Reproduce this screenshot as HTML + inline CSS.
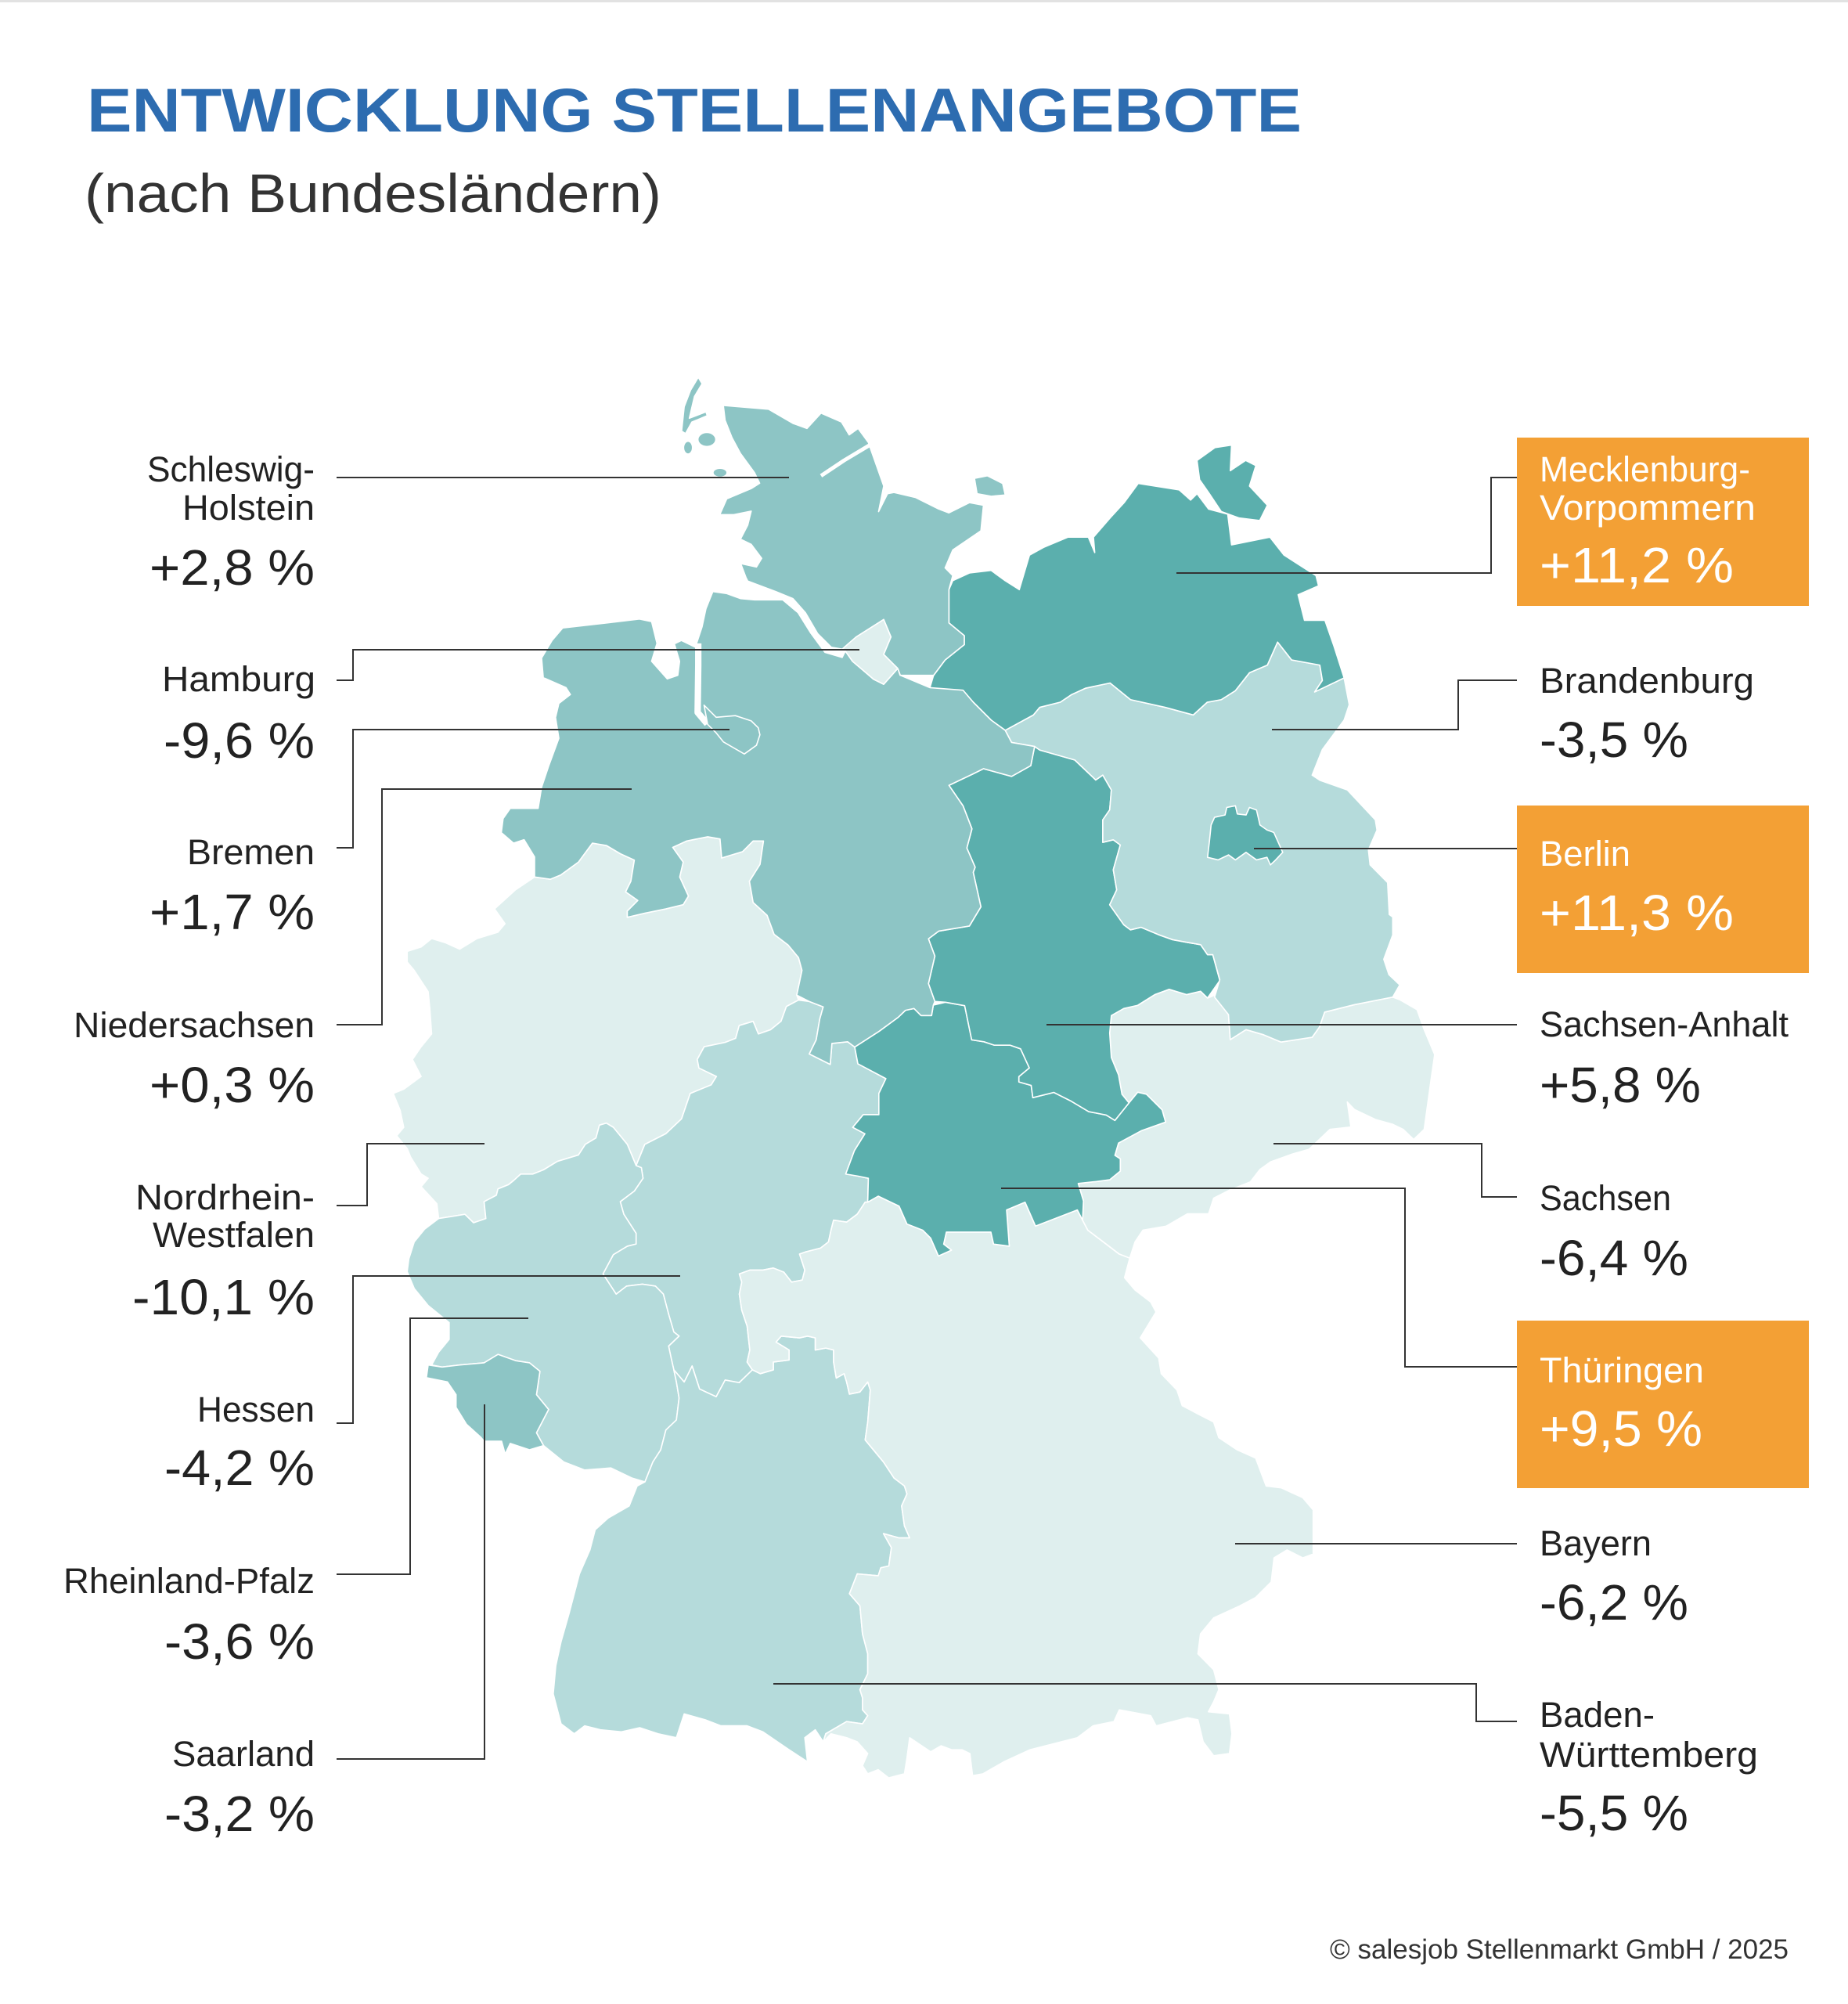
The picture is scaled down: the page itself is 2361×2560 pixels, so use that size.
<!DOCTYPE html>
<html><head><meta charset="utf-8"><style>
html,body{margin:0;padding:0;background:#fff;}
svg{display:block;}
text{font-family:"Liberation Sans",sans-serif;}
</style></head><body>
<svg width="2361" height="2560" viewBox="0 0 2361 2560" xmlns="http://www.w3.org/2000/svg">
<rect x="0" y="0" width="2361" height="2560" fill="#fff"/>
<rect x="0" y="0" width="2361" height="3" fill="#e2e2e2"/>
<text x="111" y="168" font-size="79" font-weight="bold" fill="#2d6cb0" textLength="1552" lengthAdjust="spacingAndGlyphs">ENTWICKLUNG STELLENANGEBOTE</text>
<text x="108" y="271" font-size="70" fill="#333" textLength="737" lengthAdjust="spacingAndGlyphs">(nach Bundesländern)</text>

<g transform="scale(1.6339)" stroke="#fff" stroke-width="1" stroke-linejoin="round">
<!-- NRW -->
<polygon fill="#dfefee" points="418,685.7 430.4,687.4 438.6,684 452.3,674 463.2,659.2 474.1,661 485.1,667.5 496,672.5 493.3,689 489.2,697.3 498.7,704 490.5,712.3 490.5,717.2 504.2,714 520.6,710.6 534.2,707.3 538.3,700.6 531.5,685.7 534.2,674 526,662.5 537,657.5 553.4,654.2 563,655.9 564.3,670.8 580.7,665.8 588.9,657.5 597,657.5 594.3,675.8 586,689 588.9,705.6 599.8,715.6 605.3,730.5 616.2,738.8 624.4,748.7 627.1,758.7 623,778 624.4,781.9 614.9,786.9 610.7,798.5 602.5,805.1 593,808.4 588.9,798.5 578,801.8 575.2,811.8 567,815 550.6,818.4 545.2,828.3 546.5,835 560.2,841.6 556.1,848.2 539.7,854.9 532.9,874.8 520.6,886.4 504.2,894.7 497.4,911.3 490.5,894.7 485,888 479.6,881.4 474.1,878.1 468.7,879.7 466,889.7 457.7,894.7 452.3,903 435.9,908 425,914.6 416.7,917.9 407.2,917.9 401.7,922.9 397.6,926.2 389.4,929.5 388.1,934.5 378.5,939.5 379.9,952.7 370.3,956 363.5,949.4 353.9,951 343,952.7 341.6,941.1 329.3,927.8 334.8,921.2 329.3,917.9 321.1,904.6 318.4,898 310.2,888 315.7,881.4 312.9,868.1 307.5,854.9 315.7,851.6 329.3,841.6 322.5,828.3 329.3,818.4 337.5,808.4 336.1,788.5 334.8,775.3 323.9,758.7 318.4,752.1 318.4,743.8 329.3,740.4 337.5,733.8 348.4,737.1 359.4,742.1 373,733.8 389.4,728.8 394.9,722.2 386.7,710.6 403.1,695.7"/>
<!-- Hessen -->
<polygon fill="#b5dbdb" points="497.4,911.3 504.2,894.7 520.6,886.4 532.9,874.8 539.7,854.9 556.1,848.2 560.2,841.6 546.5,835 545.2,828.3 550.6,818.4 567,815 575.2,811.8 578,801.8 588.9,798.5 593,808.4 602.5,805.1 610.7,798.5 614.9,786.9 624.4,781.9 632.8,783 643.7,787.2 641,796.7 638.2,813 632.8,824 649.2,832.2 650.5,815.8 662.8,814.5 668.3,818.6 670.8,831.7 692.7,843.3 687.2,854.9 687.2,871.5 675,871.5 666.8,881.4 676.3,886.4 668.1,899.6 661.3,917.9 670.8,919.5 679,921.2 678.5,939.9 676.5,939.9 670.3,949.3 662,955.5 651.8,954 649.8,961.8 647.8,971 641.6,975.8 629.3,979 625.2,980.5 629.3,993 627.3,1000.8 619,1002.4 612.9,994.6 604.7,991.4 596.5,993 586.3,993 578.1,996 580,1002.4 578.1,1011.8 580,1024.3 584.2,1036.8 586.3,1055.5 584.2,1064.9 588.3,1071 578,1081 567,1079 560,1092 547,1086 541.2,1068 535,1080.5 526.9,1071 524.8,1061.8 522.8,1052.4 531,1044.6 526.9,1041.4 522.8,1027.4 518.7,1011.8 512.5,1005.5 502.3,1004 490,1005.5 481.8,1011.8 477.7,1005.5 471.5,996 479.6,980.9 490.5,974.3 497.4,972.6 497.4,964.3 487.8,949.4 485,939.5 496,931.2 502.8,921.2 501.5,912.9"/>
<!-- RP -->
<polygon fill="#b5dbdb" points="343,952.7 353.9,951 363.5,949.4 370.3,956 379.9,952.7 378.5,939.5 388.1,934.5 389.4,929.5 397.6,926.2 401.7,922.9 407.2,917.9 416.7,917.9 425,914.6 435.9,908 452.3,903 457.7,894.7 466,889.7 468.7,879.7 474.1,878.1 479.6,881.4 485,888 490.5,894.7 497.4,911.3 501.5,912.9 502.8,921.2 496,931.2 485,939.5 487.8,949.4 497.4,964.3 497.4,972.6 490.5,974.3 479.6,980.9 471.5,996 477.7,1005.5 481.8,1011.8 490,1005.5 502.3,1004 512.5,1005.5 518.7,1011.8 522.8,1027.4 526.9,1041.4 531,1044.6 522.8,1052.4 524.8,1061.8 526.9,1071 528.9,1080.5 531,1093 528.9,1110.2 520.7,1118 516.6,1133.6 510.5,1143 504.3,1158.6 494,1155.5 477.7,1147.7 457.2,1149.3 440.8,1143 425,1130.2 419.5,1120.2 429,1102 419.5,1090.4 422.2,1072.1 414,1065.5 403.1,1063.8 389.4,1058.9 378.5,1065.5 359.4,1067.2 345.7,1068.8 337.5,1067.2 343,1057.2 351.2,1047.2 351.2,1034 334.8,1020.7 323.9,1007.4 318.4,994.2 319.7,984.2 323.9,971 332,961"/>
<!-- Saarland -->
<polygon fill="#8dc5c5" points="334.8,1067.2 345.7,1068.8 359.4,1067.2 378.5,1065.5 389.4,1058.9 403.1,1063.8 414,1065.5 422.2,1072.1 419.5,1090.4 429,1102 419.5,1120.2 425,1130.2 414,1133.5 399,1128.5 395,1136.8 392.2,1126.8 378.5,1126.8 375.8,1123.5 364.8,1113.6 356.6,1100.3 356.6,1090.4 349.8,1080.4 333.4,1077.1"/>
<!-- BW -->
<polygon fill="#b5dbdb" points="504.3,1158.6 510.5,1143 516.6,1133.6 520.7,1118 528.9,1110.2 531,1093 528.9,1080.5 526.9,1071 535,1080.5 541.2,1068 547,1086 560,1092 567,1079 578,1081 588.3,1071 594.5,1074 604.7,1071 604.7,1064.9 617,1063.3 617,1055.5 606.8,1049.3 610.9,1044.6 625.2,1046 631.4,1044.6 637.5,1046 637.5,1055.5 645.7,1054 651.8,1055.5 651.8,1064.9 653.9,1077.4 660,1074 662,1080.5 664.2,1090 672.4,1088.3 678.5,1080.5 680.5,1086.8 678.5,1111.8 676.5,1125.8 690.8,1143 699,1155.5 707.2,1161.8 709.2,1168 705,1177.4 707.2,1193 711.3,1202.4 703,1202.4 690.8,1199 697,1210 695,1224.3 688.7,1225.8 686.7,1232 670.3,1230.5 664.2,1246 672.4,1255.5 674.4,1277.4 678.5,1293 678.5,1308.6 672.4,1321 674.4,1327.4 674.4,1336.8 678.5,1341.4 674.4,1347.7 662,1346 645.7,1355.5 643.7,1361.8 637.5,1352.4 629.3,1358.6 631.4,1377.4 617,1368 596.5,1354 584.2,1349.3 563.7,1349.3 551.4,1344.6 535,1340 528.9,1358.6 514.6,1355.5 500.2,1350.8 485.9,1354 469.5,1352.4 457.2,1349.3 449,1355.5 438.7,1347.7 432.6,1324.3 434.6,1302.4 438.7,1283.6 444.9,1261.8 453.1,1230.5 461.3,1211.8 465.4,1196 475.6,1186.8 492,1177.4 498.2,1161.8"/>
<!-- Bayern -->
<polygon fill="#dfefee" points="678.5,939.9 686.7,935.2 703,943 709.2,957 721.5,961.8 727.7,968 733.8,982 744,977.4 737.9,972.7 740,963.3 774.8,963.3 776.9,972.7 789.2,974.3 787.1,946 801.5,939.9 809.7,958.6 842.4,946 846.5,954 850.6,961.8 865,972.7 875.2,980.5 883.4,983.6 879.3,999 887.5,1008.6 899.8,1018 903.9,1025.8 891.6,1046 906,1061.8 908,1074 920.3,1086.8 924.4,1099 936.7,1105.5 949,1111.8 953,1124 967.4,1133.6 981.8,1140 990,1161.8 1002,1163.3 1018.7,1171 1026.8,1180.5 1026.8,1215 1018.7,1218 1006.4,1211.8 996.2,1218 994,1236.8 981.8,1249 969.5,1255.5 949,1264.9 938.7,1277.4 936.7,1293 949,1305.5 953,1321 949,1330.5 944.9,1338.3 961.3,1340 963.3,1355.5 961.3,1371 949,1372.7 940.8,1361.8 936.7,1344.6 928.5,1343 904,1349.3 899.8,1341.4 875.2,1336.8 871,1346 854.7,1349.3 842.4,1358.6 805.5,1368 785,1377.4 768.7,1386.8 760.5,1388.3 758.4,1371 752.3,1368 744,1368 735.9,1364.9 727.7,1369.6 711.3,1358.6 709.2,1374.3 707.2,1386.8 694.9,1390 686.7,1383.6 678.5,1386.8 674.4,1380.5 678.5,1371 670.3,1361.8 662,1358.6 649.8,1355.5 643.7,1361.8 645.7,1355.5 662,1346 674.4,1347.7 678.5,1341.4 674.4,1336.8 674.4,1327.4 672.4,1321 678.5,1308.6 678.5,1293 674.4,1277.4 672.4,1255.5 664.2,1246 670.3,1230.5 686.7,1232 688.7,1225.8 695,1224.3 697,1210 690.8,1199 703,1202.4 711.3,1202.4 707.2,1193 705,1177.4 709.2,1168 707.2,1161.8 699,1155.5 690.8,1143 676.5,1125.8 678.5,1111.8 680.5,1086.8 678.5,1080.5 672.4,1088.3 664.2,1090 662,1080.5 660,1074 653.9,1077.4 651.8,1064.9 651.8,1055.5 645.7,1054 637.5,1055.5 637.5,1046 631.4,1044.6 625.2,1046 610.9,1044.6 606.8,1049.3 617,1055.5 617,1063.3 604.7,1064.9 604.7,1071 594.5,1074 588.3,1071 584.2,1064.9 586.3,1055.5 584.2,1036.8 580,1024.3 578.1,1011.8 580,1002.4 578.1,996 586.3,993 596.5,993 604.7,991.4 612.9,994.6 619,1002.4 627.3,1000.8 629.3,993 625.2,980.5 629.3,979 641.6,975.8 647.8,971 649.8,961.8 651.8,954 662,955.5 670.3,949.3 676.5,939.9"/>
<!-- Sachsen -->
<polygon fill="#dfefee" points="950,778 960.6,793.3 962,812.8 974.3,805 988,809 1001.6,814.7 1026,811 1031.7,803 1035.8,791.3 1059,785.5 1089,779.6 1094.5,781.6 1108,789.4 1113.6,805 1121.8,824.5 1119,844 1113.6,883 1105.4,890.9 1097.2,883 1089,879 1075.4,875.2 1059,867.4 1053.5,861.6 1056.3,881.1 1039.9,883 1023.5,898.6 1009.8,902.5 993.4,908.4 985.2,914.3 977.7,924 961.3,930.5 949,936.8 945,949 928.5,949 912,958.6 893.7,961.8 887.5,971 883.4,983.6 875.2,980.5 865,972.7 850.6,961.8 846.5,954 847.2,939 843.1,925.3 856.8,923.8 867.7,922.4 876,915.6 876,906 871.8,903.3 874.6,893.7 892.3,884.1 911.4,877.3 908.7,867.7 896.4,855.5 889.6,854 882.8,862.3 877.3,855.5 874.6,840.4 869,826.8 867.7,807.6 869,794 878.7,788.5 889.6,786 903,777.6 914.2,773.5 927.8,777.6 938.8,775 944.2,780.3"/>
<!-- Thueringen -->
<polygon fill="#5bafad" points="668.3,818.6 687.4,806.3 702.4,795.3 708,789.9 714.7,788.5 720.2,794 728.4,794 729.8,785.8 739.3,783.6 754.3,786.3 759.8,813 769.4,814.5 777.6,817.2 790,817.2 798,820 804.9,835 796.7,841.8 796.7,845.9 806.3,848.6 807.6,858.2 824,854.1 837.7,861 851.3,869.1 865,871.8 871.8,876 882.8,862.3 889.6,854 896.4,855.5 908.7,867.7 911.4,877.3 892.3,884.1 874.6,893.7 871.8,903.3 876,906 876,915.6 867.7,922.4 856.8,923.8 843.1,925.3 847.2,939 846.5,954 842.4,946 809.7,958.6 801.5,939.9 787.1,946 789.2,974.3 776.9,972.7 774.8,963.3 740,963.3 737.9,972.7 744,977.4 733.8,982 727.7,968 721.5,961.8 709.2,957 703,943 686.7,935.2 678.5,939.9 679,921.2 670.8,919.5 661.3,917.9 668.1,899.6 676.3,886.4 666.8,881.4 675,871.5 687.2,871.5 687.2,854.9 692.7,843.3 670.8,831.7"/>
<!-- Sachsen-Anhalt -->
<polygon fill="#5bafad" points="809,583.6 806,598.6 791,607 769,601 761,605 742,614 753,630 760,648 756,663 762.5,678 761,682 767,709 758,724 734,728 726,734 731,747.5 726,769 731,783 739.3,783.6 754.3,786.3 759.8,813 769.4,814.5 777.6,817.2 790,817.2 798,820 804.9,835 796.7,841.8 796.7,845.9 806.3,848.6 807.6,858.2 824,854.1 837.7,861 851.3,869.1 865,871.8 871.8,876 882.8,862.3 877.3,855.5 874.6,840.4 869,826.8 867.7,807.6 869,794 878.7,788.5 889.6,786 903,777.6 914.2,773.5 927.8,777.6 938.8,775 944.2,780.3 953.8,766.6 948.3,746.4 944.2,746.4 938.8,738.6 927.8,736.7 917,734.7 906,730.8 892.3,725 884,727 878.7,723 867.7,707.4 873.2,695.7 870.5,680 876,660.6 870.5,656.6 862.3,658.6 862.3,641 867.7,633.2 869,617.6 862.3,606 856.8,609.8 840.4,594.2 826.7,590.3 813,586.4"/>
<!-- Brandenburg -->
<polygon fill="#b5dbdb" points="786,571 808,559 813,553 829,549 838,543 849,538 868,534 884,547 911,553 933,559 944,549 955,547 966,540 977,526 991,520 999,502 1010,516 1032,520 1034,532 1028,541 1051,530 1055,551 1051,563 1034,586 1026,606 1032,610 1053.5,617.6 1075.4,641 1076.7,649 1070,664.5 1071.3,676.2 1085,690 1086.3,715 1089,717 1089,731 1082,750 1086,762 1094.5,770 1089,779.6 1059,785.5 1035.8,791.3 1031.7,803 1026,811 1001.6,814.7 988,809 974.3,805 962,812.8 960.6,793.3 949.7,779.6 953.8,766 948.3,746.4 944.2,746.4 938.8,738.6 927.8,736.7 917,734.7 906,730.8 892.3,725 884,727 878.7,723 867.7,707.4 873.2,695.7 870.5,680 876,660.6 870.5,656.6 862.3,658.6 862.3,641 867.7,633.2 869,617.6 862.3,606 856.8,609.8 840.4,594.2 826.7,590.3 813,586.4 809,583.6 791,580.5"/>
<!-- Berlin -->
<polygon fill="#5bafad" points="949.7,639 957.9,637.2 959.3,631.3 966,630 967.5,636.4 974.3,637.2 977,631.3 982.5,633.3 985.2,645 990.7,648.9 996,650.8 1003,666.4 997.5,672.3 993.4,676.2 990.7,670.3 982.5,672.3 974.3,666.4 966,672.3 960.6,668.4 952.4,672.3 944.2,670.3 945.6,658.6 947,645"/>
<!-- MV -->
<polygon fill="#5bafad" points="742,461 745,454 758,448 775,446 786,454 797,461 805,434 816,428 835,420 851,420 856,432 855,420 868,405 879,393 890,378 922,383 931,391 936,386 945,398 960,402 963,426 993,420 1004,434 1029,450 1031,458 1015,465 1020,485 1036,485 1043,505 1051,530 1028,541 1034,532 1032,520 1010,516 999,502 991,520 977,526 966,540 955,547 944,549 933,559 911,553 884,547 868,534 849,538 838,543 829,549 813,553 808,559 786,571 775,563 761,549 753,540 727,538 730,528 739,516 754,504 754,497 742,487"/>
<polygon fill="#5bafad" points="936,360 950,350 963,348 962,368 974,360 982,364 977,380 991,395 985,407 969,405 955,400 945,385 938,375"/>
<!-- Niedersachsen -->
<polygon fill="#8dc5c5" points="418,685.7 418,670 409.8,656.5 401.6,659.2 392,651 393.4,640 399,632 420.8,632 423.5,615.5 429,599 437,577.2 434.4,561 437,550 446,543 442.6,537.6 424.8,529.8 423.5,514.5 431.7,500.7 440,491 475,487 500,484 509.5,486 513.7,503 509.5,517 521.8,530.8 530,528 531.4,517 527.3,503.4 532.8,500.7 543.7,506 549,490 552,476 557.4,462.5 568,464 579,468 590,469 612,469 624,479 634,495 645,510 658.5,514 661,509 666.6,517 674.8,524 683,531 691,535 702,522.6 703.8,527.9 727,537.6 753,539.6 761,549 775,563 786,571 791,580.5 809,583.6 806,598.6 791,607 769,601 761,605 742,614 753,630 760,648 756,663 762.5,678 761,682 767,709 758,724 734,728 726,734 731,747.5 726,769 731,783 729.8,785.8 728.4,794 720.2,794 714.7,788.5 708,789.9 702.4,795.3 687.4,806.3 668.3,818.6 662.8,814.5 650.5,815.8 649.2,832.2 632.8,824 638.2,813 641,796.7 643.7,787.2 632.8,783 623,778 627.1,758.7 624.4,748.7 616.2,738.8 605.3,730.5 599.8,715.6 588.9,705.6 586,689 594.3,675.8 597,657.5 588.9,657.5 580.7,665.8 564.3,670.8 563,655.9 553.4,654.2 537,657.5 526,662.5 534.2,674 531.5,685.7 538.3,700.6 534.2,707.3 520.6,710.6 504.2,714 490.5,717.2 490.5,712.3 498.7,704 489.2,697.3 493.3,689 496,672.5 485.1,667.5 474.1,661 463.2,659.2 452.3,674 438.6,684 430.4,687.4"/>
<polyline fill="none" stroke="#fff" stroke-width="5" points="546,503 546,520 545.5,557 553,566"/>
<!-- Bremen -->
<polygon fill="#8dc5c5" points="550.5,551.3 560,560.8 575,559.5 587.4,563.6 592.9,569 594.2,574.5 591.5,582.7 582,589.5 565.6,580 560,573 553.3,566.3"/>
<!-- Hamburg -->
<polygon fill="#dfefee" points="658.5,506 669.4,498 691,484.3 696.7,498 691,511.6 702,522.6 691,535 683,531 674.8,524 666.6,517 661,509"/>
<!-- Schleswig-Holstein -->
<polygon fill="#8dc5c5" points="565.6,317 601,320 620,331 631,335 642,323 658,330 664,340 671,335 679,346 691,380 687,400 694,386 699,385 716,389 734,398 742,401 758,393 769,395 767,415 745,430 739,444 745,450 742,461 742,487 754,497 754,504 739,516 730,528 704,528 702,522.6 691,511.6 696.7,498 691,484.3 669.4,498 658.5,507.5 650,506 639.3,495.3 629.8,479 620,468 606.5,462.5 584.7,454.3 583.3,451.5 579.2,440.6 591.5,443.3 595.6,436.5 587.4,425.6 579,421.5 584.7,410.5 587.4,399.6 573.8,402.4 562.8,402.4 568.3,390 587.4,382 594,377.8 590,369.6 579,354.5 572.4,342.2 567,328.6"/>
<polyline fill="none" stroke="#fff" stroke-width="3" points="680,348 660,360 642,372"/>
<polygon fill="#8dc5c5" points="546,295 549,300 543,310 539,327 552,322 553,325 541,330 536,339 533,337 535,318 540,305"/>
<ellipse cx="552.7" cy="343.6" rx="7" ry="5.5" fill="#8dc5c5"/>
<ellipse cx="538" cy="350" rx="3.5" ry="5" fill="#8dc5c5"/>
<ellipse cx="563" cy="369.6" rx="5.5" ry="3.5" fill="#8dc5c5"/>
<polygon fill="#8dc5c5" points="762,374 772,372 784,378 786,387 775,388 764,386"/>
</g>

<g stroke="#333" stroke-width="2" fill="none">
<polyline points="430,610 1008,610"/>
<polyline points="430,869 451,869 451,830 1098,830"/>
<polyline points="430,1083 451,1083 451,932 932,932"/>
<polyline points="430,1309 488,1309 488,1008 807,1008"/>
<polyline points="430,1540 469,1540 469,1461 619,1461"/>
<polyline points="430,1818 451,1818 451,1630 869,1630"/>
<polyline points="430,2011 524,2011 524,1684 675,1684"/>
<polyline points="430,2247 619,2247 619,1794"/>
<polyline points="1938,610 1905,610 1905,732 1503,732"/>
<polyline points="1938,869 1863,869 1863,932 1625,932"/>
<polyline points="1938,1084 1602,1084"/>
<polyline points="1938,1309 1337,1309"/>
<polyline points="1938,1529 1893,1529 1893,1461 1627,1461"/>
<polyline points="1938,1746 1795,1746 1795,1518 1279,1518"/>
<polyline points="1938,1972 1578,1972"/>
<polyline points="1938,2199 1886,2199 1886,2151 988,2151"/>
</g>

<rect x="1938" y="559" width="373" height="215" fill="#f3a035"/>
<rect x="1938" y="1029" width="373" height="214" fill="#f3a035"/>
<rect x="1938" y="1687" width="373" height="214" fill="#f3a035"/>

<g fill="#222" font-size="45" text-anchor="end">
<text x="402" y="615" textLength="214" lengthAdjust="spacingAndGlyphs">Schleswig-</text>
<text x="402" y="664" textLength="169" lengthAdjust="spacingAndGlyphs">Holstein</text>
<text x="403" y="883" textLength="196" lengthAdjust="spacingAndGlyphs">Hamburg</text>
<text x="402" y="1104" textLength="163" lengthAdjust="spacingAndGlyphs">Bremen</text>
<text x="402" y="1325" textLength="308" lengthAdjust="spacingAndGlyphs">Niedersachsen</text>
<text x="402" y="1545" textLength="229" lengthAdjust="spacingAndGlyphs">Nordrhein-</text>
<text x="402" y="1593" textLength="207" lengthAdjust="spacingAndGlyphs">Westfalen</text>
<text x="402" y="1816" textLength="150" lengthAdjust="spacingAndGlyphs">Hessen</text>
<text x="402" y="2035" textLength="321" lengthAdjust="spacingAndGlyphs">Rheinland-Pfalz</text>
<text x="402" y="2256" textLength="182" lengthAdjust="spacingAndGlyphs">Saarland</text>
</g>
<g fill="#222" font-size="64" text-anchor="end">
<text x="402" y="747" textLength="211" lengthAdjust="spacingAndGlyphs">+2,8 %</text>
<text x="402" y="968" textLength="193" lengthAdjust="spacingAndGlyphs">-9,6 %</text>
<text x="402" y="1187" textLength="211" lengthAdjust="spacingAndGlyphs">+1,7 %</text>
<text x="402" y="1408" textLength="211" lengthAdjust="spacingAndGlyphs">+0,3 %</text>
<text x="402" y="1679" textLength="233" lengthAdjust="spacingAndGlyphs">-10,1 %</text>
<text x="402" y="1897" textLength="192" lengthAdjust="spacingAndGlyphs">-4,2 %</text>
<text x="402" y="2119" textLength="192" lengthAdjust="spacingAndGlyphs">-3,6 %</text>
<text x="402" y="2339" textLength="192" lengthAdjust="spacingAndGlyphs">-3,2 %</text>
</g>

<g font-size="45">
<text x="1967" y="615" fill="#fff" textLength="269" lengthAdjust="spacingAndGlyphs">Mecklenburg-</text>
<text x="1967" y="664" fill="#fff" textLength="276" lengthAdjust="spacingAndGlyphs">Vorpommern</text>
<text x="1967" y="885" fill="#222" textLength="274" lengthAdjust="spacingAndGlyphs">Brandenburg</text>
<text x="1967" y="1106" fill="#fff" textLength="116" lengthAdjust="spacingAndGlyphs">Berlin</text>
<text x="1967" y="1324" fill="#222" textLength="318" lengthAdjust="spacingAndGlyphs">Sachsen-Anhalt</text>
<text x="1967" y="1546" fill="#222" textLength="168" lengthAdjust="spacingAndGlyphs">Sachsen</text>
<text x="1967" y="1766" fill="#fff" textLength="210" lengthAdjust="spacingAndGlyphs">Thüringen</text>
<text x="1967" y="1987" fill="#222" textLength="143" lengthAdjust="spacingAndGlyphs">Bayern</text>
<text x="1967" y="2206" fill="#222" textLength="147" lengthAdjust="spacingAndGlyphs">Baden-</text>
<text x="1967" y="2257" fill="#222" textLength="279" lengthAdjust="spacingAndGlyphs">Württemberg</text>
</g>
<g font-size="64">
<text x="1967" y="744" fill="#fff" textLength="248" lengthAdjust="spacingAndGlyphs">+11,2 %</text>
<text x="1967" y="967" fill="#222" textLength="190" lengthAdjust="spacingAndGlyphs">-3,5 %</text>
<text x="1967" y="1188" fill="#fff" textLength="248" lengthAdjust="spacingAndGlyphs">+11,3 %</text>
<text x="1967" y="1408" fill="#222" textLength="206" lengthAdjust="spacingAndGlyphs">+5,8 %</text>
<text x="1967" y="1629" fill="#222" textLength="190" lengthAdjust="spacingAndGlyphs">-6,4 %</text>
<text x="1967" y="1847" fill="#fff" textLength="208" lengthAdjust="spacingAndGlyphs">+9,5 %</text>
<text x="1967" y="2069" fill="#222" textLength="190" lengthAdjust="spacingAndGlyphs">-6,2 %</text>
<text x="1967" y="2338" fill="#222" textLength="190" lengthAdjust="spacingAndGlyphs">-5,5 %</text>
</g>
<text x="1699" y="2502" font-size="35" fill="#333" textLength="586" lengthAdjust="spacingAndGlyphs">© salesjob Stellenmarkt GmbH / 2025</text>
</svg>
</body></html>
